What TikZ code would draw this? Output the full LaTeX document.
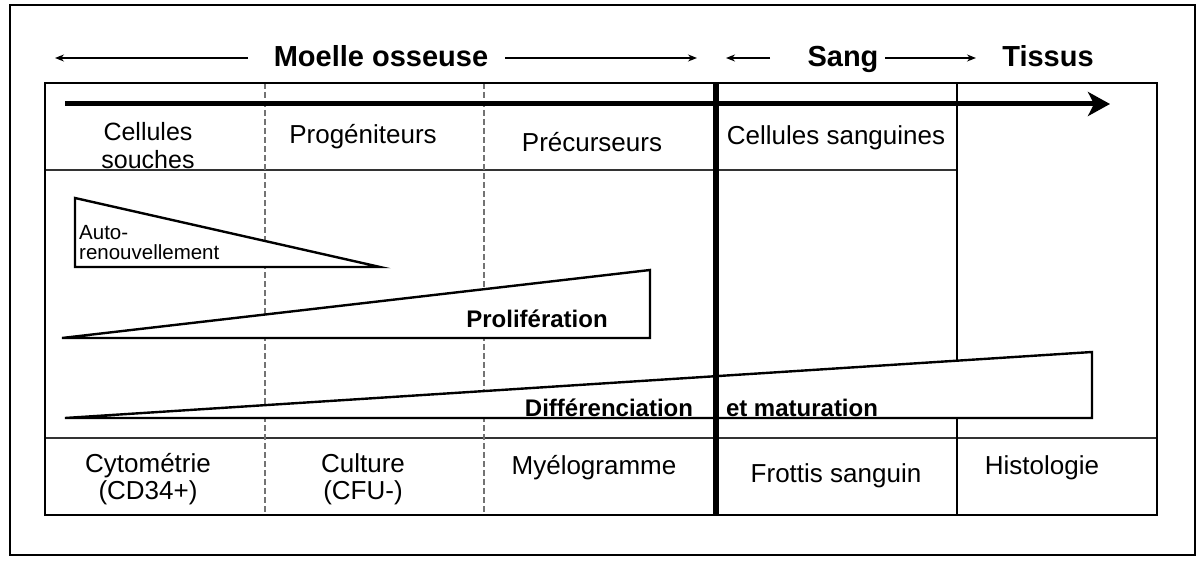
\documentclass[tikz,border=0pt]{standalone}
\usepackage{fontspec}
\setmainfont{Liberation Sans}
\usetikzlibrary{arrows.meta}
\begin{document}
\begin{tikzpicture}[x=1pt,y=-1pt,
  lbl/.style={font=\fontsize{26}{27}\selectfont, align=center, inner sep=0pt},
  hdr/.style={font=\fontsize{29}{30}\selectfont\bfseries, inner sep=0pt, anchor=base},
  blbl/.style={font=\fontsize{24}{25}\selectfont\bfseries, inner sep=0pt},
  hdrarrow/.style={line width=1.3pt, -{Stealth[length=9pt,width=7pt]}},
  tri/.style={draw, fill=white, line width=2.4pt, line join=miter},
  gridline/.style={line width=1.8pt, draw=black!80},
  dashline/.style={line width=1.6pt, draw=black!55, dash pattern=on 6pt off 3pt}
]
\useasboundingbox (0,0) rectangle (1204,567);
\draw[line width=1.6pt] (10,5) rectangle (1195,555);

% header
\node[hdr] (mo) at (381,67) {Moelle osseuse};
\node[hdr] (sa) at (843,67) {Sang};
\node[hdr] (ti) at (1048,67) {Tissus};
\coordinate (mol) at (55,58);
\coordinate (mor) at (697,58);
\coordinate (sal) at (726,58);
\coordinate (sar) at (976,58);
\draw[hdrarrow] (248,58) -- (mol);
\draw[hdrarrow] (505,58) -- (mor);
\draw[hdrarrow] (770,58) -- (sal);
\draw[hdrarrow] (885,58) -- (sar);

% grid
\draw[gridline] (45,170) -- (957,170);
\draw[gridline] (45,438) -- (1157,438);
\draw[dashline] (265,83) -- (265,515);
\draw[dashline] (484,83) -- (484,515);
\draw[line width=2pt] (957,83) -- (957,515);

% triangles
\draw[tri] (75,198) -- (380,267) -- (75,267) -- cycle;
\draw[tri] (62,338) -- (650,270) -- (650,338) -- cycle;
\draw[tri] (65,418) -- (1092,352) -- (1092,418) -- cycle;

\draw[line width=2pt] (45,83) rectangle (1157,515);
\draw[line width=6pt] (716,83) -- (716,515);
\draw[line width=5pt, -{Stealth[length=22pt,width=24pt,inset=6pt]}] (65,104) -- (1110,104);

% labels
\node[lbl, font=\fontsize{25}{26}\selectfont, anchor=base] (cs1) at (148,140) {Cellules};
\node[lbl, font=\fontsize{25}{26}\selectfont, anchor=base] (cs2) at (148,168) {souches};
\node[lbl] (pg) at (363,137) {Progéniteurs};
\node[lbl] (pc) at (592,142) {Précurseurs};
\node[lbl] (sg) at (836,138) {Cellules sanguines};

\node[font=\fontsize{20.5}{20}\selectfont, align=left, inner sep=0pt, anchor=west] (ar) at (79,243) {Auto-\\renouvellement};
\node[blbl] (pr) at (537,319) {Prolifération};
\node[blbl] (di) at (609,408) {Différenciation};
\node[blbl] (et) at (802,408) {et maturation};

\node[lbl] (cy) at (148,479) {Cytométrie\\(CD34+)};
\node[lbl] (cu) at (363,479) {Culture\\(CFU-)};
\node[lbl] (my) at (594,468) {Myélogramme};
\node[lbl] (fr) at (836,476) {Frottis sanguin};
\node[lbl] (hi) at (1042,468) {Histologie};
\end{tikzpicture}
\end{document}
